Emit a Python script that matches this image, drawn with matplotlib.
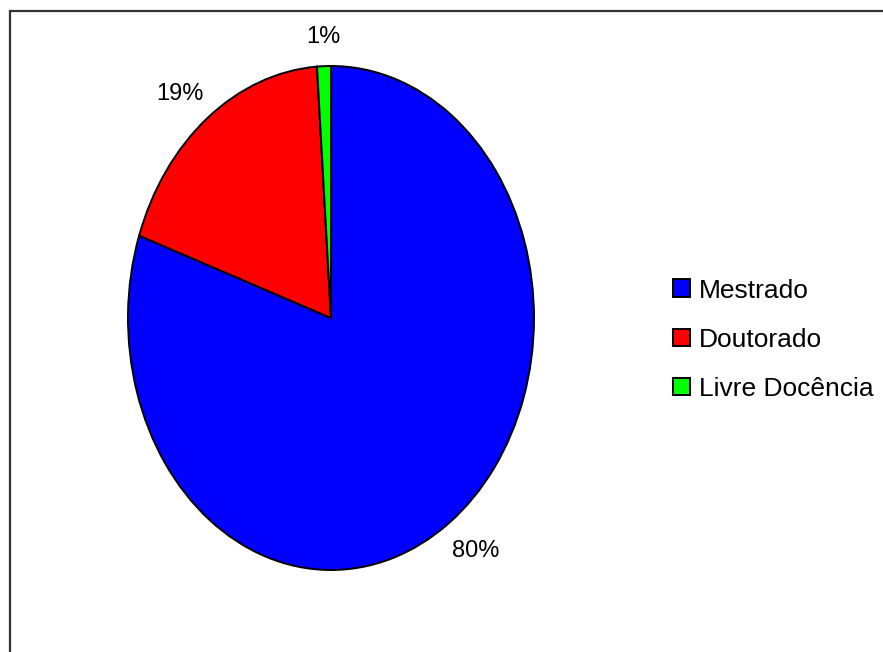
import matplotlib
matplotlib.use("Agg")
import matplotlib.pyplot as plt
from matplotlib.patches import Rectangle
import numpy as np

# data
categories = ["Mestrado", "Doutorado", "Livre Docência"]
values = [80.3, 18.6, 1.1]
colors = ["#0000ff", "#ff0000", "#00ff00"]

# label placement (distance from centre, angle tweak in degrees)
label_dist = [1.17, 1.16, 1.115]
label_turn = [2.2, 2.4, 0.0]

plt.rcParams['font.family'] = ['Liberation Sans', 'DejaVu Sans']

W, H = 883, 652
fig = plt.figure(figsize=(W / 100, H / 100), dpi=100)

# pie is stretched into an ellipse by the axes box
ax = fig.add_axes([128 / W, (H - 570) / H, 406 / W, 504 / H])
wedges, texts, autotexts = ax.pie(values, colors=colors, startangle=90, counterclock=False,
                                  autopct='%1.0f%%', pctdistance=1.16,
                                  wedgeprops=dict(edgecolor='black', linewidth=1.4),
                                  textprops=dict(fontsize=17))
ax.set_aspect('auto')
ax.set_xlim(-1, 1)
ax.set_ylim(-1, 1)

for w, t, d, a in zip(wedges, autotexts, label_dist, label_turn):
    mid = np.deg2rad((w.theta1 + w.theta2) / 2 + a)
    t.set_position((d * np.cos(mid), d * np.sin(mid)))

fig.legend(wedges, categories, loc='upper left', bbox_to_anchor=(662 / W, 1 - 268 / H),
           frameon=False, fontsize=19, handlelength=0.65, handleheight=0.65,
           handletextpad=0.35, labelspacing=0.95, borderaxespad=0)

# outer frame (only left and top edges visible)
frame = Rectangle((9.5 / W, -0.1), 1.2, 1.1 - 10.5 / H, transform=fig.transFigure,
                  fill=False, edgecolor='#333333', linewidth=1.6)
fig.patches.append(frame)

fig.savefig("out.png", dpi=100)
